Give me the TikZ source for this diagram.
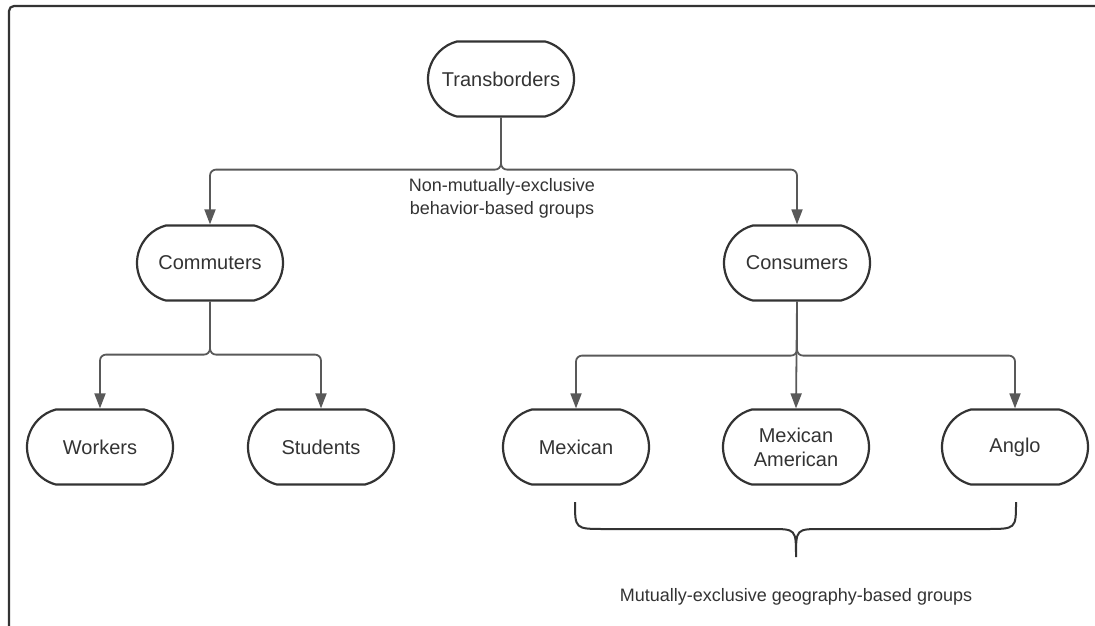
\documentclass[tikz,border=0pt]{standalone}
\usepackage{fontspec}
\setmainfont{Liberation Sans}
\usetikzlibrary{arrows.meta,calc,shapes.misc}
\definecolor{ink}{HTML}{333333}
\definecolor{wire}{HTML}{595959}
\begin{document}
\begin{tikzpicture}[x=1pt,y=-1pt,
  box/.style={draw=ink,line width=2.2pt,rounded rectangle,
    rounded rectangle arc length=150,
    minimum width=146pt,minimum height=75pt,align=center,
    text=ink,font=\fontsize{20}{24}\selectfont,inner sep=0pt},
  conn/.style={draw=wire,line width=1.8pt,rounded corners=6pt,
    -{Triangle[width=11pt,length=15pt]}},
  lbl/.style={text=ink,font=\fontsize{18}{23}\selectfont,align=center,inner sep=0pt},
  brace/.style={draw=ink,line width=2pt}]
  \useasboundingbox (0,0) rectangle (1095,626);
  % outer frame, open to the right and the bottom
  \draw[draw=ink,line width=2.2pt,rounded corners=5pt] (9,640) -- (9,6) -- (1110,6);

  % nodes
  \node[box] (tb)  at (501,79)  {Transborders};
  \node[box] (com) at (210,263) {Commuters};
  \node[box] (con) at (797,263) {Consumers};
  \node[box] (wk)  at (100,447) {Workers};
  \node[box] (st)  at (321,447) {Students};
  \node[box] (mx)  at (576,447) {Mexican};
  \node[box] (ma)  at (796,447) {Mexican\\American};
  \node[box] (an)  at (1015,447) {Anglo};

  % connectors
  \draw[conn] (tb.south) -- ++(0,52) -| (com.north);
  \draw[conn] (tb.south) -- ++(0,52) -| (con.north);
  \draw[conn] (com.south) -- ++(0,53) -| (wk.north);
  \draw[conn] (com.south) -- ++(0,53) -| (st.north);
  \draw[conn] (con.south) -- ++(0,54) -| (mx.north);
  \draw[conn] (con.south) -- (ma.north);
  \draw[conn] (con.south) -- ++(0,54) -| (an.north);

  % labels
  \node[lbl] (l1) at (502,198) {Non-mutually-exclusive\\behavior-based groups};
  \node[lbl] (l2) at (796,597) {Mutually-exclusive geography-based groups};

  % curly brace under the geography groups
  \coordinate (bl) at (575,502);
  \coordinate (br) at (1016,502);
  \coordinate (bt) at (796,557);
  \draw[brace] (bl) .. controls (575,529) .. (605,529) -- (770,529)
    .. controls (796,529) .. (bt) .. controls (796,529) .. (822,529)
    -- (986,529) .. controls (1016,529) .. (br);
\end{tikzpicture}
\end{document}
